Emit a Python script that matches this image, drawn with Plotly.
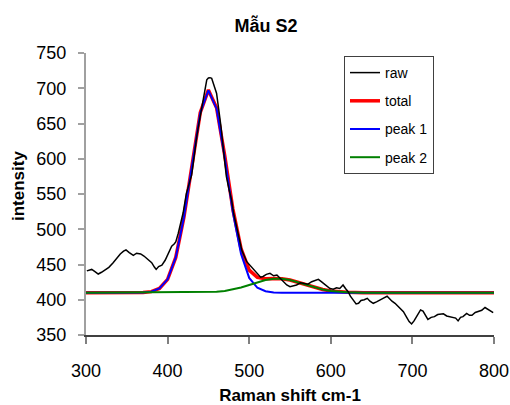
import plotly.graph_objects as go

# ---- data ----
raw_x = [301, 307, 311, 315, 319, 323, 328, 333, 338, 342, 346, 349, 353, 358, 362, 367, 371, 374, 378,
         380.5, 384, 386, 389, 393, 397, 400, 403, 405, 408, 410, 413, 415, 419, 423, 426, 429.5, 431,
         433.6, 435.5, 437.6, 440, 441.8, 444, 446, 448, 450, 452, 454, 457, 460, 461.5, 463, 465.5, 468,
         470, 472, 475, 478.5, 481, 484.7, 488, 491, 497, 500, 503, 507, 511, 514, 517, 521, 525.5, 530,
         534, 538, 542, 546, 550, 554, 558, 563, 568, 572, 576.6, 581, 584.7, 588, 591, 595, 599, 603, 607,
         611, 615, 618, 621.5, 624, 627.6, 631, 634, 637, 641, 644.7, 648, 652, 656, 660, 664, 669, 672,
         675, 678.7, 683, 686, 689, 693, 696, 699, 702, 706, 710, 713, 716, 719, 723, 727, 731, 735, 738,
         742, 746, 750, 753, 756, 759, 762, 766.5, 770, 773, 777, 781, 785, 789, 792, 795, 799]
raw_y = [441, 443, 440, 436.5, 439, 442, 446, 452, 460, 465, 469, 470.6, 467, 463, 466, 465, 462, 459, 455,
         452.6, 446, 443, 447, 449, 456, 463, 470, 476, 479, 482, 494, 505, 523, 551, 562, 577, 590,
         617, 630, 645, 660, 674, 688, 702, 712, 714.5, 715, 714, 702, 693, 680, 669, 645, 617,
         595, 575, 558, 541, 522, 503.6, 485, 470, 454, 450, 447, 441, 435, 432, 433, 436, 437.5, 434,
         435, 430, 425.6, 421, 418.5, 420, 421, 424, 423, 422, 425.6, 427, 429, 426, 423, 419, 416, 415, 417,
         416, 421, 416, 411, 405, 399.6, 394, 395, 399, 400, 402, 398, 395, 397, 400, 402, 405, 401,
         398, 395, 390, 386, 383, 375, 369, 365.6, 370, 378, 385.5, 384, 377, 372, 375, 376, 379, 379, 380,
         377, 376, 375, 374, 370, 375, 376, 380.7, 378, 378, 382, 383, 385, 389, 387, 385, 381.6]

total_x = [300, 360, 370, 380, 390, 400, 410, 420, 430, 440, 450, 460, 470, 480, 490, 500, 510, 520,
           530, 540, 550, 560, 570, 580, 590, 600, 610, 620, 630, 640, 800]
total_y = [410, 410, 410.3, 411.5, 416, 429, 460, 517, 594.1, 665.3, 697.6, 672.3, 604.5, 528.6, 472.4,
           442, 431.7, 429.9, 430.1, 429.8, 427.9, 424.7, 421, 417.4, 414.6, 412.5, 411.3, 410.6, 410.3,
           410, 410]

peak1_x = [300, 360, 370, 380, 390, 400, 410, 420, 430, 440, 450, 460, 470, 480, 490, 500, 510, 520,
           530, 540, 800]
peak1_y = [410, 410, 410.3, 411.5, 416, 429, 460, 517, 594, 665, 697, 671, 602, 524, 465, 431, 417, 412,
           410.3, 410, 410]

peak2_x = [300, 440, 450, 460, 470, 480, 490, 500, 510, 520, 530, 540, 550, 560, 570, 580, 590, 600,
           610, 620, 630, 640, 800]
peak2_y = [410, 410.3, 410.6, 411.3, 412.5, 414.6, 417.4, 421, 424.7, 427.9, 429.8, 429.8, 427.9, 424.7,
           421, 417.4, 414.6, 412.5, 411.3, 410.6, 410.3, 410, 410]

x_ticks = [300, 400, 500, 600, 700, 800]
y_ticks = [350, 400, 450, 500, 550, 600, 650, 700, 750]

FONT = "Arial, Liberation Sans, sans-serif"

W, H = 510, 405

fig = go.Figure()
fig.add_trace(go.Scatter(x=total_x, y=total_y, mode="lines", name="total",
                         line=dict(color="#FF0000", width=3.5), legendgroup="b", legendrank=2))
fig.add_trace(go.Scatter(x=peak1_x, y=peak1_y, mode="lines", name="peak 1",
                         line=dict(color="#0000FF", width=2), legendgroup="c", legendrank=3))
fig.add_trace(go.Scatter(x=peak2_x, y=peak2_y, mode="lines", name="peak 2",
                         line=dict(color="#008000", width=2), legendgroup="d", legendrank=4))
fig.add_trace(go.Scatter(x=raw_x, y=raw_y, mode="lines", name="raw",
                         line=dict(color="#000000", width=1.5), legendgroup="a", legendrank=1))

fig.update_layout(
    width=W, height=H,
    margin=dict(l=86, r=16, t=53, b=70, autoexpand=False),
    paper_bgcolor="white", plot_bgcolor="white",
    font=dict(family=FONT, color="#000000", size=17),
    title=dict(text="<b>Mẫu S2</b>", x=266 / W, xref="container", xanchor="center",
               y=1 - 26 / H, yref="container", yanchor="middle",
               font=dict(size=18, family=FONT)),
    showlegend=True,
    legend=dict(x=(344 - 86) / 408, y=(335 - 56) / 282, xanchor="left", yanchor="top",
                bgcolor="white", bordercolor="#404040", borderwidth=1,
                font=dict(size=14, family=FONT), traceorder="grouped", tracegroupgap=7,
                itemwidth=30),
    xaxis=dict(range=[300, 800], tickvals=x_ticks, showgrid=False, zeroline=False,
               showline=True, linecolor="#404040", linewidth=1.5, automargin=False,
               ticks="outside", ticklen=7, tickcolor="#808080", tickwidth=1.5,
               tickfont=dict(size=18), ticklabelstandoff=12,
               title=dict(text="<b>Raman shift cm-1</b>", font=dict(size=17), standoff=14)),
    yaxis=dict(range=[350, 750], tickvals=y_ticks, showgrid=False, zeroline=False,
               showline=True, linecolor="#A0A0A0", linewidth=2, automargin=False,
               ticks="outside", ticklen=6, tickcolor="#A0A0A0", tickwidth=1.5,
               tickfont=dict(size=18), ticklabelstandoff=8),
    annotations=[dict(text="<b>intensity</b>", textangle=-90, xref="paper", yref="paper",
                      x=-(86 - 18) / 408, y=(335 - 186) / 282, xanchor="center", yanchor="middle",
                      showarrow=False, font=dict(size=17, family=FONT))],
)

# remove the page's default body margin / scrollbars so the 510x405 figure fills the window
fig.write_html("out.html",
               config={"displayModeBar": False},
               post_script="document.body.style.margin='0';document.body.style.overflow='hidden';")
